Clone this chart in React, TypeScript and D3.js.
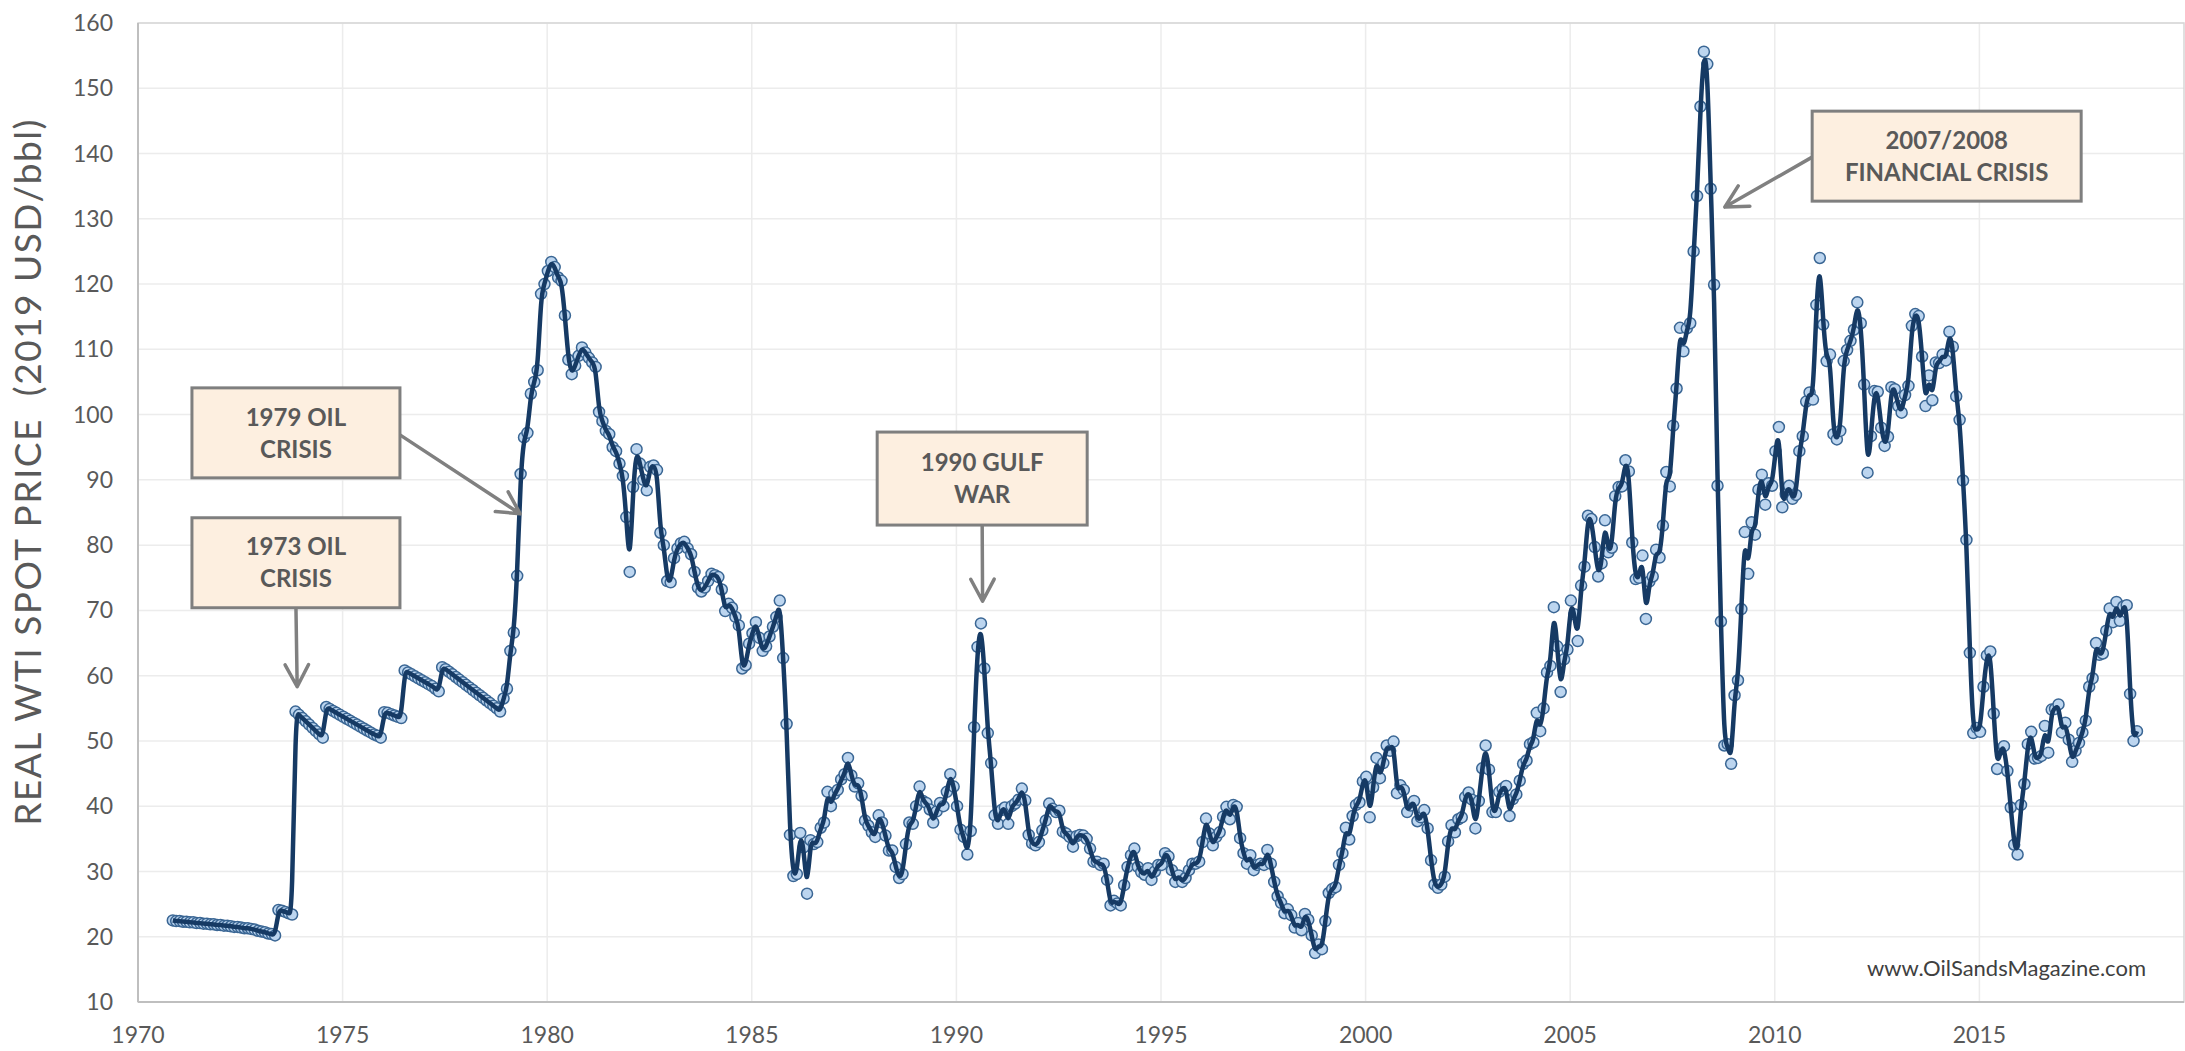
import * as d3 from 'd3'

// Real WTI spot price in 2019 USD/bbl, one value per month starting Jan 1971
const prices1970s = [
  22.5, 22.4, 22.4, 22.3, 22.3, 22.2, 22.2, 22.1, 22.1, 22.0, 22.0, 21.9,
  21.9, 21.8, 21.8, 21.7, 21.7, 21.6, 21.5, 21.5, 21.4, 21.3, 21.3, 21.2,
  21.1, 20.9, 20.8, 20.7, 20.5, 20.4, 20.2, 24.1, 24.0, 23.8, 23.6, 23.4,
  54.5, 54.0, 53.5, 53.0, 52.5, 52.0, 51.5, 51.0, 50.5, 55.2, 54.9, 54.6,
  54.3, 54.0, 53.7, 53.4, 53.1, 52.8, 52.5, 52.2, 51.9, 51.6, 51.3, 51.0,
  50.8, 50.5, 54.4, 54.3, 54.1, 53.9, 53.7, 53.5, 60.8, 60.5, 60.2, 59.9,
  59.6, 59.3, 59.0, 58.7, 58.4, 58.0, 57.6, 61.3, 61.0, 60.6, 60.2, 59.8,
  59.4, 59.0, 58.6, 58.2, 57.8, 57.4, 57.0, 56.6, 56.2, 55.8, 55.4, 55.0,
  54.5, 56.5, 58.0, 63.8, 66.6, 75.3, 90.9, 96.5, 97.2, 103.2, 105.0, 106.8,
]

const prices1980s = [
  118.5, 120.0, 122.0, 123.4, 122.6, 121.0, 120.5, 115.2, 108.4, 106.2, 107.5, 109.0,
  110.3, 109.5, 108.7, 108.0, 107.3, 100.4, 99.0, 97.5, 97.0, 95.0, 94.4, 92.5,
  90.6, 84.3, 75.9, 88.9, 94.7, 92.5, 90.0, 88.4, 92.0, 92.2, 91.5, 81.9,
  80.0, 74.5, 74.3, 78.0, 79.5, 80.3, 80.5, 79.5, 78.6, 75.9, 73.5, 72.9,
  73.5, 74.5, 75.6, 75.4, 75.1, 73.2, 69.9, 71.0, 70.4, 69.0, 67.7, 61.1,
  61.6, 64.9, 66.5, 68.2, 65.8, 63.8, 64.5, 66.0, 67.5, 69.0, 71.5, 62.7,
  52.6, 35.6, 29.3, 29.6, 35.9, 33.7, 26.6, 34.8, 34.2, 34.5, 36.7, 37.5,
  42.2, 40.0, 41.9, 42.5, 44.1, 44.9, 47.4, 44.7, 43.0, 43.5, 41.6, 37.8,
  37.0, 36.0, 35.3, 38.6, 37.5, 35.5, 33.2, 33.2, 30.7, 29.0, 29.6, 34.2,
  37.5, 37.3, 40.0, 43.0, 40.8, 40.5, 39.5, 37.5, 39.2, 40.5, 40.0, 42.2,
]

const prices1990s = [
  44.9, 43.0, 40.0, 36.4, 35.3, 32.6, 36.2, 52.1, 64.4, 68.0, 61.1, 51.2,
  46.6, 38.6, 37.3, 39.4, 39.8, 37.3, 40.0, 40.4, 41.0, 42.7, 40.9, 35.6,
  34.3, 34.0, 34.5, 36.3, 37.8, 40.4, 39.6, 39.1, 39.3, 36.1, 35.8, 35.3,
  33.8, 35.4, 35.6, 35.5, 35.0, 33.5, 31.5, 31.5, 31.0, 31.2, 28.7, 24.8,
  25.5, 25.1, 24.8, 27.9, 30.7, 32.5, 33.5, 30.7, 29.9, 29.5, 30.5, 28.7,
  30.0, 31.0, 31.0, 32.8, 32.3, 30.2, 28.4, 29.4, 28.4, 29.0, 30.2, 31.2,
  31.2, 31.5, 34.5, 38.1, 35.8, 34.0, 35.3, 36.0, 38.4, 39.9, 38.0, 40.2,
  39.9, 35.1, 32.8, 31.2, 32.5, 30.2, 31.0, 31.2, 31.0, 33.3, 31.2, 28.4,
  26.2, 25.2, 23.6, 24.2, 23.3, 21.4, 22.1, 21.0, 23.5, 22.6, 20.2, 17.5,
  18.8, 18.1, 22.4, 26.7, 27.3, 27.6, 31.0, 32.8, 36.7, 34.9, 38.5, 40.2,
]

const prices2000s = [
  40.6, 43.8, 44.5, 38.3, 42.9, 47.4, 44.3, 46.6, 49.3, 48.5, 49.9, 42.0,
  43.2, 42.5, 39.1, 40.1, 40.8, 37.7, 38.3, 39.4, 36.6, 31.7, 28.0, 27.5,
  28.0, 29.2, 34.6, 37.1, 36.0, 38.0, 38.3, 41.4, 42.1, 41.0, 36.6, 40.8,
  45.8, 49.3, 45.6, 39.1, 39.1, 42.2, 42.7, 43.1, 38.5, 41.1, 41.8, 43.9,
  46.5, 47.0, 49.5, 49.8, 54.3, 51.5, 55.0, 60.5, 61.5, 70.5, 64.5, 57.5,
  62.5, 64.0, 71.5, 69.4, 65.3, 73.8, 76.7, 84.5, 84.0, 79.7, 75.2, 77.2,
  83.8, 78.9, 79.6, 87.5, 88.9, 89.0, 93.0, 91.3, 80.4, 74.8, 75.0, 78.4,
  68.7, 74.4, 75.2, 79.3, 78.1, 83.0, 91.2, 89.0, 98.3, 104.0, 113.3, 109.7,
  113.2, 114.0, 125.0, 133.5, 147.2, 155.6, 153.7, 134.6, 119.9, 89.1, 68.3, 49.3,
  49.5, 46.5, 57.0, 59.3, 70.2, 82.0, 75.6, 83.5, 81.6, 88.5, 90.8, 86.2,
]

const prices2010s = [
  89.5, 89.1, 94.4, 98.1, 85.8, 87.8, 89.1, 87.1, 87.7, 94.4, 96.7, 102.0,
  103.4, 102.3, 116.8, 124.0, 113.8, 108.2, 109.2, 97.0, 96.2, 97.5, 108.2, 109.9,
  111.3, 113.0, 117.2, 114.0, 104.6, 91.1, 96.7, 103.6, 103.5, 98.0, 95.2, 96.6,
  104.2, 103.9, 101.3, 100.3, 103.0, 104.4, 113.6, 115.4, 115.1, 108.9, 101.3, 106.0,
  102.2, 108.0, 107.9, 109.2, 108.3, 112.7, 110.4, 102.8, 99.2, 89.9, 80.8, 63.5,
  51.2, 52.0, 51.4, 58.3, 63.1, 63.7, 54.2, 45.7, 48.7, 49.2, 45.4, 39.8,
  34.1, 32.6, 40.2, 43.4, 49.5, 51.4, 47.3, 47.4, 47.7, 52.3, 48.2, 54.8,
  54.9, 55.6, 51.3, 52.8, 50.2, 46.8, 48.5, 49.7, 51.3, 53.1, 58.3, 59.6,
  65.0, 63.2, 63.4, 66.9, 70.3, 68.2, 71.3, 68.4, 70.6, 70.8, 57.2, 50.0,
  51.5,
]

const prices = [...prices1970s, ...prices1980s, ...prices1990s, ...prices2000s, ...prices2010s]
const firstYear = 1971
// the source chart draws each month slightly ahead of its calendar date
const monthShift = -0.15

const yearTicks = [1970, 1975, 1980, 1985, 1990, 1995, 2000, 2005, 2010, 2015]
const priceTicks = [10, 20, 30, 40, 50, 60, 70, 80, 90, 100, 110, 120, 130, 140, 150, 160]

// callouts: box centre and arrow tip given in chart units (year, price)
const callouts = [
  { lines: ['1979 OIL', 'CRISIS'], box: [1973.86, 97.2], w: 208, h: 90, side: 'right', tip: [1979.34, 84.8] },
  { lines: ['1973 OIL', 'CRISIS'], box: [1973.86, 77.3], w: 208, h: 90, side: 'bottom', tip: [1973.89, 58.3] },
  { lines: ['1990 GULF', 'WAR'], box: [1990.63, 90.2], w: 210, h: 93, side: 'bottom', tip: [1990.64, 71.4] },
  { lines: ['2007/2008', 'FINANCIAL CRISIS'], box: [2014.2, 139.6], w: 269, h: 90, side: 'left', tip: [2008.78, 131.8] },
]

const font = 'Lato, "Open Sans", sans-serif'
const grey = '#595959'

export default function App() {
  const width = 2185
  const height = 1051
  const x = d3.scaleLinear().domain([1970, 2020]).range([138, 2184])
  const y = d3.scaleLinear().domain([10, 160]).range([1002, 23])

  const points = prices.map((v, i) => ({ t: firstYear + monthShift + i / 12, v }))
  const line = d3
    .line<{ t: number; v: number }>()
    .x((d) => x(d.t))
    .y((d) => y(d.v))
    .curve(d3.curveBasis)

  const [x0, x1] = x.range()
  const [y0, y1] = y.range()

  const arrow = (c: typeof callouts[number]) => {
    const cx = x(c.box[0])
    const cy = y(c.box[1])
    let sx = cx
    let sy = cy
    if (c.side === 'right') { sx = cx + c.w / 2; sy = cy + 2 }
    if (c.side === 'left') { sx = cx - c.w / 2; sy = cy + 1 }
    if (c.side === 'bottom') { sy = cy + c.h / 2 }
    const tx = x(c.tip[0])
    const ty = y(c.tip[1])
    const a = Math.atan2(ty - sy, tx - sx)
    const len = 25
    const spread = (28 * Math.PI) / 180
    const h1 = [tx - len * Math.cos(a - spread), ty - len * Math.sin(a - spread)]
    const h2 = [tx - len * Math.cos(a + spread), ty - len * Math.sin(a + spread)]
    return `M${sx},${sy}L${tx},${ty}M${h1[0]},${h1[1]}L${tx},${ty}L${h2[0]},${h2[1]}`
  }

  return (
    <svg
      width={width}
      height={height}
      style={{ position: 'absolute', left: 0, top: 0, background: '#fff' }}
      fontFamily={font}
    >
      {/* grid */}
      <g stroke="#ececec" strokeWidth={1.5}>
        {priceTicks.map((t) => (
          <line key={'h' + t} x1={x0} x2={x1} y1={y(t)} y2={y(t)} />
        ))}
        {yearTicks.map((t) => (
          <line key={'v' + t} x1={x(t)} x2={x(t)} y1={y0} y2={y1} />
        ))}
      </g>
      <rect x={x0} y={y1} width={x1 - x0} height={y0 - y1} fill="none" stroke="#d6d6d6" strokeWidth={1.5} />
      <line x1={x0} x2={x0} y1={y1} y2={y0} stroke="#bfbfbf" strokeWidth={2} />
      <line x1={x0} x2={x1} y1={y0} y2={y0} stroke="#bfbfbf" strokeWidth={2} />

      {/* tick labels */}
      {priceTicks.map((t) => (
        <text key={'yl' + t} x={113} y={y(t)} dy="0.35em" textAnchor="end" fontSize={23} fill={grey}>
          {t}
        </text>
      ))}
      {yearTicks.map((t) => (
        <text key={'xl' + t} x={x(t)} y={1043} textAnchor="middle" fontSize={23} fill={grey}>
          {t}
        </text>
      ))}
      <text
        transform="translate(41,472) rotate(-90)"
        textAnchor="middle"
        fontSize={37}
        letterSpacing={1.5}
        fill={grey}
        style={{ whiteSpace: 'pre' }}
      >
        {'REAL WTI SPOT PRICE  (2019 USD/bbl)'}
      </text>

      {/* monthly markers and smoothed line */}
      <g>
        {points.map((d, i) => (
          <circle
            key={i}
            cx={x(d.t)}
            cy={y(d.v)}
            r={5.5}
            fill="#bcd5ef"
            stroke="#3a6694"
            strokeWidth={1.5}
          />
        ))}
      </g>
      <path d={line(points) ?? ''} fill="none" stroke="#163a64" strokeWidth={4.5} strokeLinejoin="round" />

      {/* callouts */}
      {callouts.map((c, i) => {
        const cx = x(c.box[0])
        const cy = y(c.box[1])
        return (
          <g key={'c' + i}>
            <path d={arrow(c)} fill="none" stroke="#808080" strokeWidth={3.5} strokeLinecap="round" strokeLinejoin="round" />
            <rect x={cx - c.w / 2} y={cy - c.h / 2} width={c.w} height={c.h} fill="#fdefe0" stroke="#7f7f7f" strokeWidth={3} />
            {c.lines.map((l, j) => (
              <text
                key={j}
                x={cx}
                y={cy + (j - (c.lines.length - 1) / 2) * 32}
                dy="0.36em"
                textAnchor="middle"
                fontSize={24}
                fontWeight={700}
                fill={grey}
              >
                {l}
              </text>
            ))}
          </g>
        )
      })}

      <text x={2146} y={976} textAnchor="end" fontSize={22} fill="#404040">
        www.OilSandsMagazine.com
      </text>
    </svg>
  )
}
